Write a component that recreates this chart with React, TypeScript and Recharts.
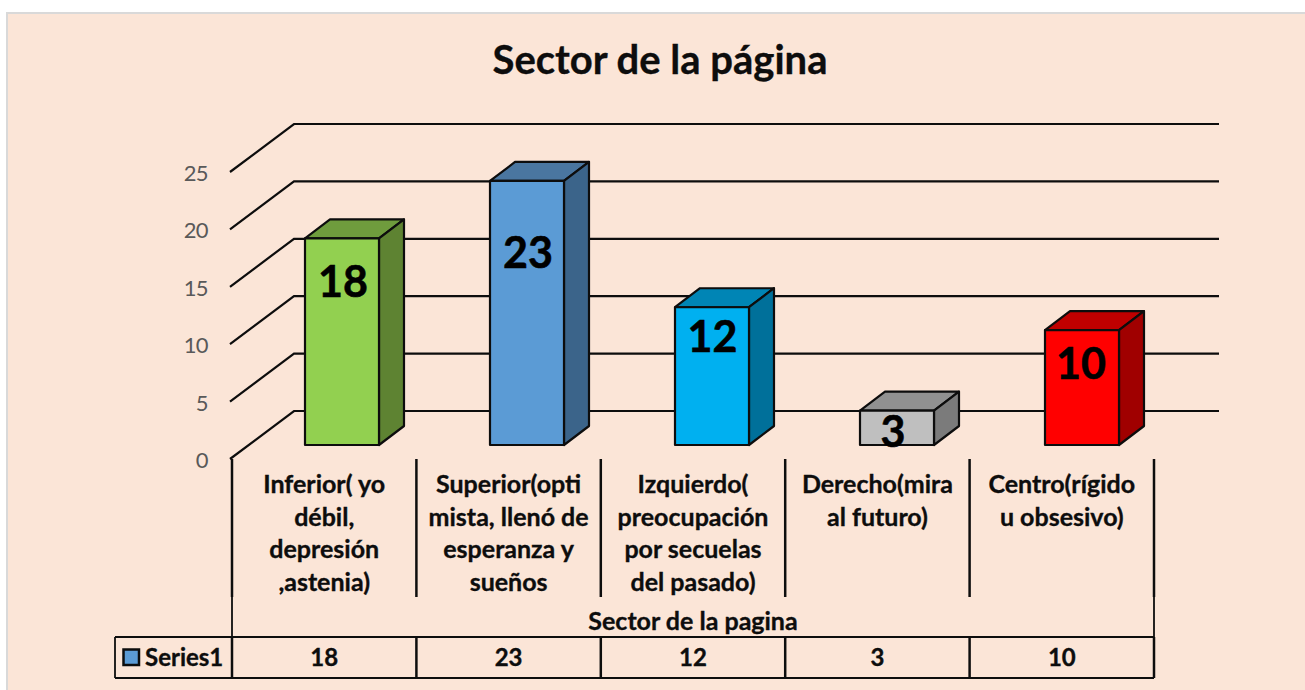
import React from "react";
import { BarChart, Bar, XAxis, YAxis, LabelList, CartesianGrid } from "recharts";

const categories = [
  "Inferior( yo\ndébil,\ndepresión\n,astenia)",
  "Superior(opti\nmista, llenó de\nesperanza y\nsueños",
  "Izquierdo(\npreocupación\npor secuelas\ndel pasado)",
  "Derecho(mira\nal futuro)",
  "Centro(rígido\nu obsesivo)",
];
const seriesValues = [18, 23, 12, 3, 10];
const yTicks = [0, 5, 10, 15, 20, 25];
const faceColors = ["#92D050", "#5B9BD5", "#00B0F0", "#BFBFBF", "#FF0000"];
const topColors = ["#6F9C3D", "#4A76A0", "#0085B5", "#919191", "#C00000"];
const sideColors = ["#5E8332", "#3B648A", "#00709A", "#7B7B7B", "#A00000"];
// how far each value label sits below the top of its bar, and beside its centre
const labelDrops = [59, 87, 45, 36, 49];
const labelShifts = [1, 1, 0.5, -4, -1];

const data = categories.map((category, i) => ({ category, value: seriesValues[i] }));

const W = 1305;
const H = 690;
const LEFT = 232;
const RIGHT = 1154;
const FLOOR = 459;
const TOP = 172;
const BAND = (RIGHT - LEFT) / categories.length;
const TABLE_TOP = 637;
const TABLE_BOTTOM = 678;
const TABLE_LEFT = 115;
const INK = "#0d0d0d";
const FONT = "Lato, 'Open Sans', sans-serif";

const barLeft = (x: number, index: number) => x + 18 + index * 0.6;

const gridLine = (props: any) => {
  const y = props.y1;
  return (
    <polyline
      key={props.key ?? y}
      points={`${LEFT - 2},${y} ${LEFT + 62},${y - 48} 1219,${y - 48}`}
      fill="none"
      stroke={INK}
      strokeWidth={2.2}
    />
  );
};

const YTick = ({ y, payload }: any) => (
  <text x={208} y={y + 9} textAnchor="end" fontSize={22} letterSpacing={-0.6} fontFamily={FONT} fill="#595959">
    {payload.value}
  </text>
);

const BoldText = ({ size, children, ...rest }: any) => (
  <text
    fontSize={size}
    fontWeight={700}
    fontFamily={FONT}
    fill="#0d0d0d"
    stroke="#0d0d0d"
    strokeWidth={0.35}
    {...rest}
  >
    {children}
  </text>
);

const XTick = ({ x, payload, index }: any) => {
  const lines = String(payload.value).split("\n");
  const left = x - BAND / 2;
  const right = x + BAND / 2;
  return (
    <g>
      <line x1={left} x2={left} y1={FLOOR} y2={597} stroke={INK} strokeWidth={2.5} />
      <line x1={left} x2={left} y1={TABLE_TOP} y2={TABLE_BOTTOM} stroke={INK} strokeWidth={2.5} />
      {index === categories.length - 1 && (
        <>
          <line x1={right} x2={right} y1={FLOOR} y2={597} stroke={INK} strokeWidth={2.5} />
          <line x1={right} x2={right} y1={TABLE_TOP} y2={TABLE_BOTTOM} stroke={INK} strokeWidth={2.5} />
        </>
      )}
      <BoldText size={25} textAnchor="middle">
        {lines.map((l, i) => (
          <tspan key={i} x={x} y={493 + i * 32.7}>
            {l}
          </tspan>
        ))}
      </BoldText>
      <BoldText size={24} x={x} y={666} textAnchor="middle">
        {seriesValues[index]}
      </BoldText>
    </g>
  );
};

const Box = ({ x, y, width, height, index }: any) => {
  const dx = 25;
  const dy = -19;
  const x0 = barLeft(x, index);
  const y0 = y - 14;
  const x1 = x0 + width;
  const y1 = y0 + height;
  return (
    <g stroke={INK} strokeWidth={2.2} strokeLinejoin="round">
      <polygon
        points={`${x0},${y0} ${x0 + dx},${y0 + dy} ${x1 + dx},${y0 + dy} ${x1},${y0}`}
        fill={topColors[index]}
      />
      <polygon
        points={`${x1},${y0} ${x1 + dx},${y0 + dy} ${x1 + dx},${y1 + dy} ${x1},${y1}`}
        fill={sideColors[index]}
      />
      <rect x={x0} y={y0} width={width} height={height} fill={faceColors[index]} />
    </g>
  );
};

const BarValue = ({ x, y, width, value, index }: any) => (
  <text
    x={barLeft(x, index) + width / 2 + labelShifts[index]}
    y={y - 14 + labelDrops[index]}
    textAnchor="middle"
    fontSize={43}
    fontWeight={700}
    fontFamily={FONT}
    fill="#000"
    stroke="#000"
    strokeWidth={0.6}
  >
    {value}
  </text>
);

export default function App() {
  return (
    <div style={{ position: "absolute", left: 0, top: 0, width: W, height: H, background: "#fff", overflow: "hidden" }}>
      <div
        style={{
          position: "absolute",
          left: 6,
          top: 12,
          width: W,
          height: H,
          background: "#FBE5D7",
          border: "2px solid #D9D9D9",
          boxSizing: "border-box",
        }}
      />
      <div style={{ position: "absolute", left: 0, top: 0 }}>
        <BarChart
          width={W}
          height={H}
          data={data}
          margin={{ top: TOP, left: LEFT - 60, right: W - RIGHT, bottom: 0 }}
          barCategoryGap={0}
        >
          <BoldText size={40} x={660} y={74} textAnchor="middle">
            Sector de la página
          </BoldText>
          <CartesianGrid vertical={false} horizontal={gridLine} syncWithTicks />
          <YAxis
            width={60}
            domain={[0, 25]}
            ticks={yTicks}
            tick={YTick}
            axisLine={false}
            tickLine={false}
            interval={0}
          />
          <XAxis
            dataKey="category"
            height={H - FLOOR}
            tick={XTick}
            axisLine={false}
            tickLine={false}
            interval={0}
          />
          <Bar dataKey="value" barSize={74} shape={Box} isAnimationActive={false}>
            <LabelList dataKey="value" content={BarValue} />
          </Bar>
          <g stroke={INK} fill="none">
            <line x1={LEFT} x2={LEFT} y1={597} y2={TABLE_TOP} strokeWidth={1.8} />
            <line x1={RIGHT} x2={RIGHT} y1={597} y2={TABLE_TOP} strokeWidth={1.8} />
            <line x1={TABLE_LEFT} x2={RIGHT} y1={TABLE_TOP} y2={TABLE_TOP} strokeWidth={2} />
            <line x1={TABLE_LEFT} x2={RIGHT} y1={TABLE_BOTTOM} y2={TABLE_BOTTOM} strokeWidth={2} />
            <line x1={TABLE_LEFT} x2={TABLE_LEFT} y1={TABLE_TOP} y2={TABLE_BOTTOM} strokeWidth={1.8} />
            <rect x={123.5} y={649.5} width={15.5} height={15.5} fill={faceColors[1]} strokeWidth={2.5} />
          </g>
          <BoldText size={24} x={145} y={666}>
            Series1
          </BoldText>
          <BoldText size={25} x={693} y={630} textAnchor="middle">
            Sector de la pagina
          </BoldText>
        </BarChart>
      </div>
    </div>
  );
}
